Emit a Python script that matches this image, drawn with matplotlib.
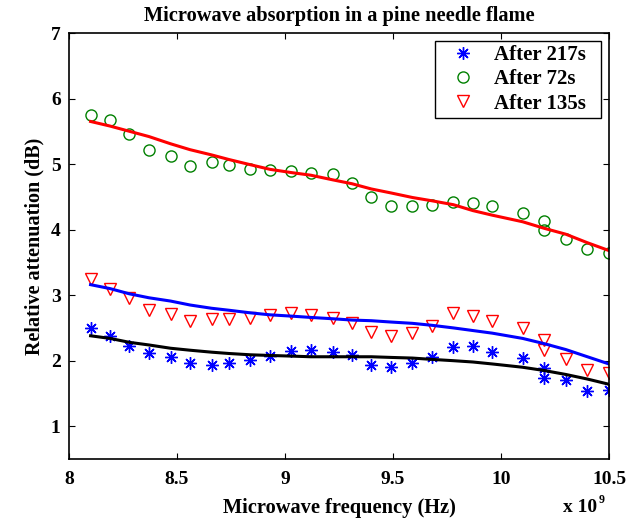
import matplotlib
matplotlib.use('Agg')
import matplotlib.pyplot as plt

plt.rcParams['font.family'] = ['Liberation Serif', 'DejaVu Serif']
plt.rcParams['font.weight'] = 'bold'

# frequencies in units of 1e9 Hz
freq = [8.10, 8.19, 8.28, 8.37, 8.47, 8.56, 8.66, 8.74, 8.84, 8.93, 9.03, 9.12, 9.22, 9.31,
        9.40, 9.49, 9.59, 9.68, 9.78, 9.87, 9.96, 10.10, 10.20, 10.20, 10.30, 10.40, 10.50]
after_217 = [2.50, 2.38, 2.22, 2.11, 2.05, 1.96, 1.94, 1.96, 2.01, 2.07, 2.15, 2.17, 2.14, 2.09,
             1.94, 1.90, 1.96, 2.06, 2.21, 2.22, 2.14, 2.04, 1.89, 1.74, 1.70, 1.54, 1.56]
after_72 = [5.75, 5.67, 5.46, 5.21, 5.12, 4.97, 5.03, 4.99, 4.93, 4.91, 4.89, 4.87, 4.85, 4.71,
            4.50, 4.36, 4.36, 4.37, 4.42, 4.40, 4.36, 4.25, 4.13, 3.99, 3.86, 3.70, 3.64]
after_135 = [3.25, 3.10, 2.95, 2.78, 2.72, 2.60, 2.63, 2.63, 2.65, 2.69, 2.73, 2.69, 2.65, 2.57,
             2.44, 2.38, 2.42, 2.53, 2.73, 2.68, 2.60, 2.50, 2.32, 2.16, 2.02, 1.86, 1.81]

# smoothed curves
fit_freq = [8.10, 8.19, 8.28, 8.37, 8.47, 8.56, 8.66, 8.74, 8.84, 8.93, 9.03, 9.12, 9.22, 9.31,
            9.40, 9.49, 9.59, 9.68, 9.78, 9.87, 9.96, 10.10, 10.20, 10.30, 10.40, 10.50]
fit_72 = [5.65, 5.58, 5.50, 5.42, 5.31, 5.22, 5.14, 5.07, 4.99, 4.92, 4.87, 4.83, 4.76, 4.70,
          4.62, 4.56, 4.49, 4.44, 4.38, 4.29, 4.22, 4.12, 4.02, 3.93, 3.80, 3.68]
fit_135 = [3.16, 3.10, 3.02, 2.96, 2.91, 2.85, 2.80, 2.77, 2.73, 2.70, 2.68, 2.66, 2.64, 2.62,
           2.61, 2.59, 2.57, 2.54, 2.50, 2.46, 2.42, 2.34, 2.26, 2.17, 2.06, 1.95]
fit_217 = [2.38, 2.34, 2.28, 2.24, 2.19, 2.16, 2.13, 2.11, 2.09, 2.08, 2.07, 2.06, 2.06, 2.06,
           2.06, 2.05, 2.04, 2.02, 2.00, 1.98, 1.95, 1.90, 1.85, 1.79, 1.72, 1.64]

xticks = [8, 8.5, 9, 9.5, 10, 10.5]
xtick_labels = ['8', '8.5', '9', '9.5', '10', '10.5']
yticks = [1, 2, 3, 4, 5, 6, 7]

fig = plt.figure(figsize=(6.43, 5.24), dpi=100)
ax = fig.add_axes([69 / 643, 65 / 524, 540 / 643, 426 / 524])

ax.plot(freq, after_217, linestyle='none', marker=(8, 2, 0), markersize=9,
        markeredgecolor='blue', markeredgewidth=1.0, label='After 217s  ')
ax.plot(freq, after_72, linestyle='none', marker='o', markersize=8, markerfacecolor='none',
        markeredgecolor='#008000', markeredgewidth=1.0, label='After 72s')
ax.plot(freq, after_135, linestyle='none', marker='v', markersize=9, markerfacecolor='none',
        markeredgecolor='red', markeredgewidth=1.0, label='After 135s')

ax.plot(fit_freq, fit_72, color='red', linewidth=2.2)
ax.plot(fit_freq, fit_135, color='blue', linewidth=2.2)
ax.plot(fit_freq, fit_217, color='black', linewidth=2.2)

ax.set_xlim(8, 10.5)
ax.set_ylim(0.5, 7)
ax.set_xticks(xticks)
ax.set_xticklabels(xtick_labels)
ax.set_yticks(yticks)
ax.tick_params(direction='in', top=True, right=True, length=4, width=0.8,
               labelsize=14)
ax.tick_params(axis='x', pad=9)
ax.tick_params(axis='y', pad=6)
for s in ax.spines.values():
    s.set_linewidth(1.2)

ax.set_title('Microwave absorption in a pine needle flame', fontsize=14.7,
             fontweight='bold', pad=9)
ax.set_xlabel('Microwave frequency (Hz)', fontsize=14.7, fontweight='bold')
ax.xaxis.set_label_coords(0.5, -0.092)
ax.set_ylabel('Relative attenuation (dB)', fontsize=14.5, fontweight='bold')
ax.yaxis.set_label_coords(-0.063, 0.5)
ax.yaxis.label.set_va('center')

fig.text(563 / 643, 1 - 512 / 524, 'x 10', fontsize=14, fontweight='bold',
         ha='left', va='baseline')
fig.text(599 / 643, 1 - 503 / 524, '9', fontsize=8.5, fontweight='bold',
         ha='left', va='baseline')

leg = ax.legend(loc='upper right', bbox_to_anchor=(0.985, 0.981), fontsize=15,
                frameon=True, fancybox=False, framealpha=1, edgecolor='black',
                labelspacing=0.2, handlelength=2.3, handletextpad=0.35,
                borderpad=0.2, borderaxespad=0)
leg.get_frame().set_linewidth(1.0)

fig.savefig('out.png', dpi=100)
